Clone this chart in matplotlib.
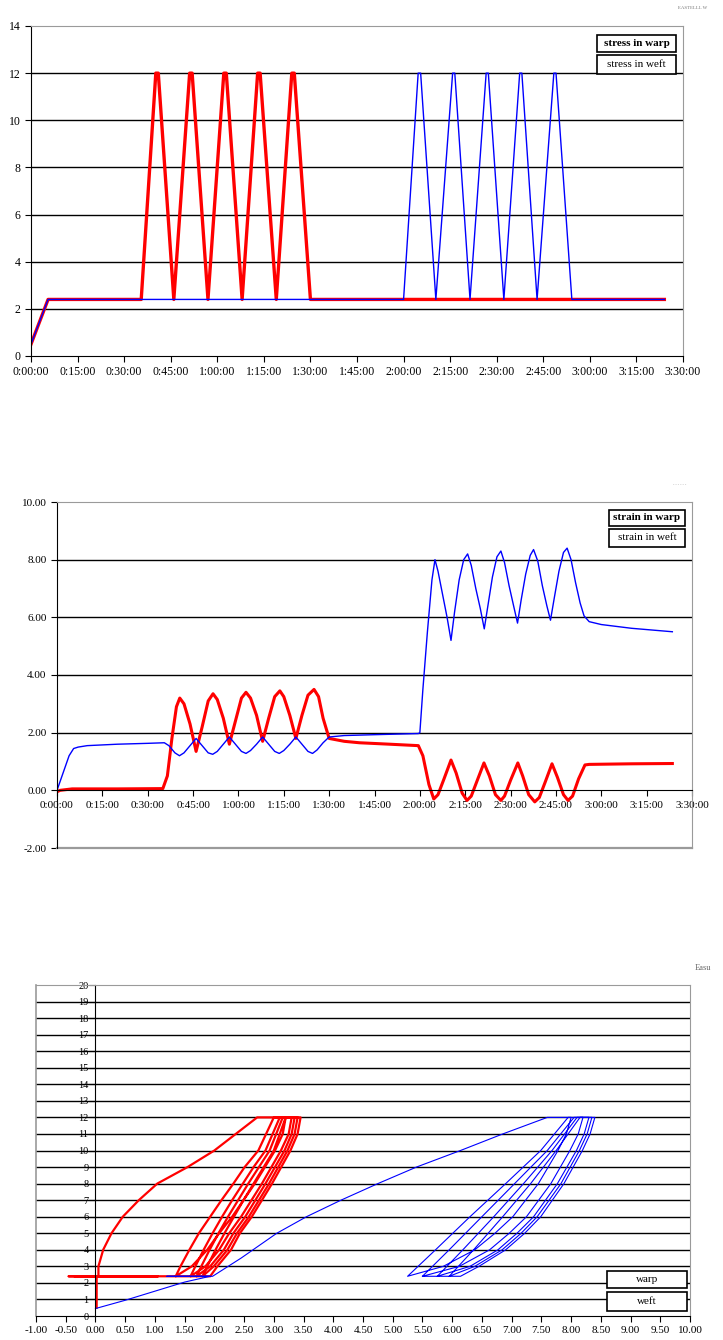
import matplotlib
matplotlib.use('Agg')
import matplotlib.pyplot as plt
from matplotlib.patches import Rectangle
from matplotlib.ticker import FuncFormatter, FormatStrFormatter, MultipleLocator

plt.rcParams['font.family'] = ['Liberation Serif', 'DejaVu Serif']

W, H = 723, 1340

# ---- panel 1: stress vs time (minutes) ----
warp_stress_t = [0, 5.5, 35.5, 40.2, 41.0, 46.0, 51.1, 51.9, 57.0, 62.1, 62.9, 68.0,
                 73.0, 73.8, 79.0, 84.0, 84.8, 90.0, 204.0]
warp_stress = [0.5, 2.4, 2.4, 12, 12, 2.4, 12, 12, 2.4, 12, 12, 2.4,
               12, 12, 2.4, 12, 12, 2.4, 2.4]
weft_stress_t = [0, 5.5, 120.0, 124.7, 125.5, 130.4, 135.8, 136.5, 141.4, 146.6, 147.3, 152.3,
                 157.4, 158.1, 163.0, 168.4, 169.1, 174.2, 204.0]
weft_stress = [0.5, 2.4, 2.4, 12, 12, 2.4, 12, 12, 2.4, 12, 12, 2.4,
               12, 12, 2.4, 12, 12, 2.4, 2.4]

# ---- panel 2: strain vs time (minutes) ----
warp_strain_t = [0, 1, 5, 20, 35, 36.5, 38, 39.5, 40.6, 42, 44, 46, 48, 50, 51.6, 53, 55, 57,
                 59, 61, 62.5, 64, 66, 68, 70, 72, 73.7, 75, 77, 79, 81, 83, 85, 86.5, 88, 90,
                 95, 100, 110, 119.5, 121, 123, 124.6, 126, 128, 130.3, 132, 134, 135.6, 137,
                 139, 141.2, 143, 145, 146.8, 148, 150, 152.4, 154, 156, 158, 159.5, 161.5,
                 163.7, 165.5, 167.5, 169, 170.5, 172.5, 174.6, 176, 190, 203.5]
warp_strain = [-0.05, 0.0, 0.05, 0.05, 0.06, 0.5, 1.8, 2.9, 3.2, 3.0, 2.3, 1.35, 2.2, 3.1, 3.35,
               3.15, 2.5, 1.6, 2.4, 3.2, 3.4, 3.2, 2.6, 1.7, 2.5, 3.25, 3.45, 3.25, 2.6, 1.8,
               2.6, 3.3, 3.5, 3.25, 2.5, 1.8, 1.7, 1.65, 1.6, 1.55, 1.2, 0.2, -0.3, -0.15, 0.4,
               1.05, 0.6, -0.1, -0.35, -0.2, 0.35, 0.95, 0.5, -0.15, -0.35, -0.2, 0.35, 0.95,
               0.5, -0.15, -0.4, -0.25, 0.3, 0.92, 0.45, -0.15, -0.35, -0.2, 0.4, 0.88, 0.9,
               0.92, 0.93]
weft_strain_t = [0, 2, 4, 5.5, 7, 10, 20, 30, 35.5, 37, 39, 40.5, 42, 44, 46, 48, 50, 51.5, 53,
                 55, 57, 59, 61, 62.5, 64, 66, 68, 70, 72, 73.5, 75, 77, 79, 81, 83, 84.5, 86,
                 88, 90, 95, 105, 119.5, 120, 121, 122.5, 124, 125, 126, 127.5, 129, 130.3,
                 131.5, 133, 134.5, 135.8, 137, 138.5, 140, 141.3, 142.5, 144, 145.5, 146.8,
                 148, 149.5, 151, 152.3, 153.5, 155, 156.5, 157.6, 159, 160.5, 162, 163.2,
                 164.5, 166, 167.5, 168.7, 170, 171.5, 173, 174.3, 176, 180, 190, 203.5]
weft_strain = [0, 0.6, 1.2, 1.45, 1.5, 1.55, 1.6, 1.63, 1.65, 1.55, 1.3, 1.2, 1.3, 1.55, 1.8,
               1.55, 1.3, 1.25, 1.35, 1.6, 1.85, 1.6, 1.35, 1.28, 1.38, 1.6, 1.85, 1.6, 1.35,
               1.28, 1.38, 1.6, 1.85, 1.6, 1.35, 1.28, 1.4, 1.65, 1.85, 1.9, 1.93, 1.97, 2.0,
               3.5, 5.5, 7.3, 8.0, 7.6, 6.8, 6.0, 5.2, 6.2, 7.3, 8.0, 8.2, 7.8, 7.0, 6.3, 5.6,
               6.4, 7.4, 8.1, 8.3, 7.9, 7.1, 6.4, 5.8, 6.6, 7.5, 8.15, 8.35, 7.95, 7.1, 6.4,
               5.9, 6.7, 7.6, 8.25, 8.4, 8.0, 7.2, 6.5, 6.05, 5.85, 5.75, 5.62, 5.5]

# ---- panel 3: stress vs strain loops ----
warp_loop_strain = [0.02, 0.02, 0.05,
                    0.05, 0.13, 0.27, 0.46, 0.73, 1.04, 1.55, 2.0, 2.36, 2.72, 3.2,
                    3.15, 3.02, 2.68, 2.3, 2.08, 1.88, 1.62, 1.35,
                    1.43, 1.58, 1.74, 1.93, 2.12, 2.32, 2.51, 2.74, 3.0, 3.3,
                    3.25, 3.12, 2.8, 2.45, 2.25, 2.08, 1.85, 1.6,
                    1.68, 1.82, 1.97, 2.13, 2.3, 2.48, 2.66, 2.86, 3.1, 3.35,
                    3.3, 3.18, 2.86, 2.52, 2.32, 2.16, 1.93, 1.7,
                    1.78, 1.92, 2.07, 2.23, 2.4, 2.57, 2.75, 2.93, 3.15, 3.4,
                    3.35, 3.23, 2.92, 2.58, 2.38, 2.22, 1.99, 1.8,
                    1.88, 2.02, 2.17, 2.33, 2.49, 2.66, 2.83, 3.0, 3.2, 3.45,
                    3.40, 3.28, 2.97, 2.63, 2.43, 2.28, 2.05, 1.93,
                    1.55, -0.3, 1.05, -0.35, 0.95, -0.35, 0.95, -0.45, 0.92]
warp_loop_stress = [0.5, 2.4, 2.4,
                    3, 4, 5, 6, 7, 8, 9, 10, 11, 12, 12,
                    11, 10, 8, 6, 5, 4, 3, 2.4,
                    3, 4, 5, 6, 7, 8, 9, 10, 12, 12,
                    11, 10, 8, 6, 5, 4, 3, 2.4,
                    3, 4, 5, 6, 7, 8, 9, 10, 12, 12,
                    11, 10, 8, 6, 5, 4, 3, 2.4,
                    3, 4, 5, 6, 7, 8, 9, 10, 12, 12,
                    11, 10, 8, 6, 5, 4, 3, 2.4,
                    3, 4, 5, 6, 7, 8, 9, 10, 12, 12,
                    11, 10, 8, 6, 5, 4, 3, 2.4,
                    2.4, 2.4, 2.4, 2.4, 2.4, 2.4, 2.4, 2.4, 2.4]
weft_loop_strain = [0, 0.5, 1.0, 1.5, 1.93, 1.2, 1.85, 1.97,
                    2.45, 3.05, 3.55, 4.13, 4.75, 5.4, 6.14, 6.85, 7.6, 8.0,
                    7.92, 7.78, 7.45, 7.02, 6.72, 6.38, 5.85, 5.25,
                    5.72, 6.3, 6.9, 7.49, 7.95, 8.2,
                    8.12, 7.98, 7.66, 7.25, 6.96, 6.63, 6.12, 5.5,
                    5.95, 6.5, 7.05, 7.6, 8.05, 8.3,
                    8.22, 8.09, 7.77, 7.37, 7.09, 6.77, 6.3, 5.75,
                    6.18, 6.7, 7.2, 7.68, 8.1, 8.35,
                    8.27, 8.14, 7.83, 7.43, 7.16, 6.84, 6.38, 5.95,
                    6.36, 6.85, 7.32, 7.75, 8.15, 8.4,
                    8.32, 8.19, 7.88, 7.49, 7.22, 6.9, 6.45, 6.14,
                    5.5]
weft_loop_stress = [0.45, 0.95, 1.5, 2.05, 2.4, 2.4, 2.4, 2.4,
                    3.5, 5, 6, 7, 8, 9, 10, 11, 12, 12,
                    11, 10, 8, 6, 5, 4, 3, 2.4,
                    4, 6, 8, 10, 12, 12,
                    11, 10, 8, 6, 5, 4, 3, 2.4,
                    4, 6, 8, 10, 12, 12,
                    11, 10, 8, 6, 5, 4, 3, 2.4,
                    4, 6, 8, 10, 12, 12,
                    11, 10, 8, 6, 5, 4, 3, 2.4,
                    4, 6, 8, 10, 12, 12,
                    11, 10, 8, 6, 5, 4, 3, 2.4,
                    2.4]

RED = '#ff0000'
BLUE = '#0000ff'
GRAY = '#9a9a9a'


def hms(m, pos):
    return '%d:%02d:00' % (int(m // 60), int(round(m % 60)))


def frame(ax):
    for s in ['top', 'right']:
        ax.spines[s].set_color(GRAY)
    for s in ['left', 'bottom']:
        ax.spines[s].set_color('black')
    ax.tick_params(direction='out', length=4, width=0.8, colors='black')


def box(fig, x0, y0, x1, y1, text, weight='normal', size=8):
    fig.add_artist(Rectangle((x0 / W, 1 - y1 / H), (x1 - x0) / W, (y1 - y0) / H,
                             transform=fig.transFigure, fc='white', ec='black', lw=1.2))
    fig.text((x0 + x1) / 2 / W, 1 - (y0 + y1) / 2 / H, text, ha='center', va='center',
             fontsize=size, weight=weight)


fig = plt.figure(figsize=(W / 100, H / 100), dpi=100)

# panel 1
ax1 = fig.add_axes([31 / W, 1 - 356 / H, 652 / W, 330 / H])
ax1.plot(warp_stress_t, warp_stress, color=RED, lw=2.4)
ax1.plot(weft_stress_t, weft_stress, color=BLUE, lw=1.0)
ax1.set_xlim(0, 210)
ax1.set_ylim(0, 14)
ax1.xaxis.set_major_locator(MultipleLocator(15))
ax1.xaxis.set_major_formatter(FuncFormatter(hms))
ax1.yaxis.set_major_locator(MultipleLocator(2))
for y in range(2, 14, 2):
    ax1.axhline(y, color='black', lw=1.0, zorder=0.5)
frame(ax1)
ax1.tick_params(labelsize=8.5)
box(fig, 597, 35, 676, 52, 'stress in warp', 'bold')
box(fig, 597, 55, 676, 74, 'stress in weft')
fig.text(678 / W, 1 - 8 / H, 'EASTELLL W', fontsize=3.5, color='#777777', va='center')

# panel 2
ax2 = fig.add_axes([57 / W, 1 - 848 / H, 635 / W, 346 / H])
ax2.plot(warp_strain_t, warp_strain, color=RED, lw=2.2)
ax2.plot(weft_strain_t, weft_strain, color=BLUE, lw=1.0)
ax2.set_xlim(0, 210)
ax2.set_ylim(-2, 10)
ax2.xaxis.set_major_locator(MultipleLocator(15))
ax2.xaxis.set_major_formatter(FuncFormatter(hms))
ax2.yaxis.set_major_locator(MultipleLocator(2))
ax2.yaxis.set_major_formatter(FormatStrFormatter('%.2f'))
ax2.spines['bottom'].set_position(('data', 0))
ax2.axhline(-2, color=GRAY, lw=1.6, clip_on=False)
for y in range(2, 10, 2):
    ax2.axhline(y, color='black', lw=1.0, zorder=0.5)
frame(ax2)
ax2.tick_params(labelsize=8)
box(fig, 609, 510, 685, 526, 'strain in warp', 'bold')
box(fig, 609, 529, 685, 547, 'strain in weft')
fig.text(673 / W, 1 - 485 / H, '- - - - - -', fontsize=3, color='#888888', va='center')

# panel 3
ax3 = fig.add_axes([36 / W, 1 - 1316 / H, 654 / W, 331 / H])
ax3.plot(warp_loop_strain, warp_loop_stress, color=RED, lw=1.6)
ax3.plot(weft_loop_strain, weft_loop_stress, color=BLUE, lw=0.8)
ax3.set_xlim(-1, 10)
ax3.set_ylim(0, 20)
ax3.xaxis.set_major_locator(MultipleLocator(0.5))
ax3.xaxis.set_major_formatter(FormatStrFormatter('%.2f'))
ax3.yaxis.set_major_locator(MultipleLocator(1))
ax3.spines['left'].set_position(('data', 0))
ax3.axvline(-1, color=GRAY, lw=1.2, clip_on=False)
for y in range(1, 20):
    ax3.axhline(y, color='black', lw=1.0, zorder=0.5)
frame(ax3)
ax3.tick_params(axis='x', labelsize=8)
ax3.tick_params(axis='y', labelsize=7.5, pad=1)
box(fig, 607, 1271, 687, 1288, 'warp')
box(fig, 607, 1292, 687, 1311, 'weft')
fig.text(695 / W, 1 - 968 / H, 'Easu', fontsize=6, color='#666666', va='center')

fig.savefig('out.png', dpi=100)
